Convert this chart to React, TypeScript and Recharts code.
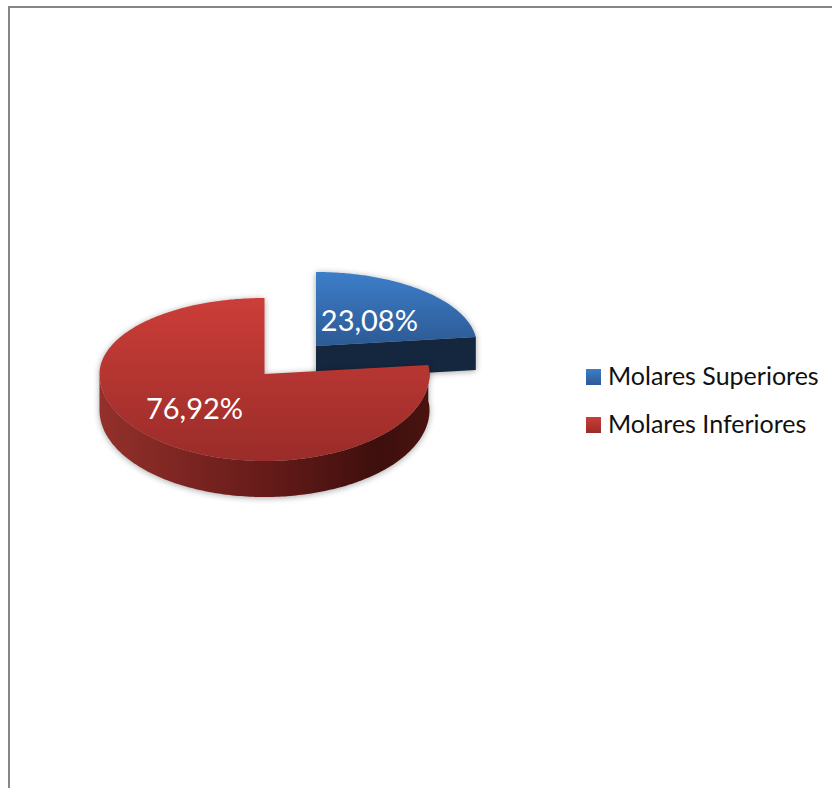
import { Legend, Pie, PieChart } from 'recharts';

const categories = ['Molares Superiores', 'Molares Inferiores'];
const shares = [23.08, 76.92];

const data = categories.map((name, i) => ({ name, value: shares[i] }));

const FONT = 'Lato, sans-serif';

// per-slice drawing setup: how far it is pulled out, and its tilted ellipse
const sliceStyles = [
  { dx: 51.5, dy: -28, rx: 161, up: 74, down: 85, depth: 33, top: 'url(#blueTop)', labelX: 0.5, labelY: 0.47, swatch: 'linear-gradient(#3d7ec9, #2c5a94)' },
  { dx: 0, dy: 0, rx: 165, up: 76, down: 87, depth: 36, top: 'url(#redTop)', labelX: 0.64, labelY: 0.52, swatch: 'linear-gradient(#cc3d38, #9a2c29)' },
];

const RAD = Math.PI / 180;

// point on the slice rim; the front half of the ellipse is a bit deeper than the back
function rim(s: (typeof sliceStyles)[number], cx: number, cy: number, deg: number, scaleX = 1, scaleY = 1) {
  const sin = Math.sin(deg * RAD);
  return {
    x: cx + s.dx + s.rx * scaleX * Math.cos(deg * RAD),
    y: cy + s.dy - (sin > 0 ? s.up : s.down) * scaleY * sin,
  };
}

function rimPoints(s: (typeof sliceStyles)[number], cx: number, cy: number, from: number, to: number) {
  const pts = [];
  for (let a = from; a > to; a -= 1) pts.push(rim(s, cx, cy, a));
  pts.push(rim(s, cx, cy, to));
  return pts;
}

const toPath = (pts: { x: number; y: number }[]) =>
  pts.map((p, i) => `${i ? 'L' : 'M'}${p.x.toFixed(1)} ${p.y.toFixed(1)}`).join(' ') + ' Z';

function Slice3D(props: any) {
  const { cx, cy, startAngle, endAngle, index } = props;
  const s = sliceStyles[index];
  const apex = { x: cx + s.dx, y: cy + s.dy };
  const arc = rimPoints(s, cx, cy, startAngle, endAngle);
  const last = arc[arc.length - 1];

  let wall = null;
  if (endAngle < 0) {
    // outer wall, only the part facing the viewer
    const front = rimPoints(s, cx, cy, startAngle, Math.max(endAngle, -180));
    const lower = front.map((p) => ({ x: p.x, y: p.y + s.depth })).reverse();
    wall = <path d={toPath([...front, ...lower])} fill="url(#redWall)" />;
  } else {
    // cut face along the slice's closing edge
    const face = [apex, last, { x: last.x, y: last.y + s.depth }, { x: apex.x, y: apex.y + s.depth }];
    wall = <path d={toPath(face)} fill="#15273f" />;
  }

  return (
    <g style={{ filter: 'drop-shadow(0 1px 3px rgba(0,0,0,0.35))' }}>
      {wall}
      <path d={toPath([apex, ...arc])} fill={s.top} />
    </g>
  );
}

function renderLabel(props: any) {
  const { cx, cy, midAngle, index, value } = props;
  const s = sliceStyles[index];
  const p = rim(s, cx, cy, midAngle, s.labelX, s.labelY);
  return (
    <text x={p.x} y={p.y} fill="#fff" fontFamily={FONT} fontSize={29} textAnchor="middle" dominantBaseline="central">
      {`${value.toFixed(2).replace('.', ',')}%`}
    </text>
  );
}

function LegendRows() {
  return (
    <div>
      {categories.map((name, i) => (
        <div key={name} style={{ display: 'flex', alignItems: 'center', height: 48 }}>
          <div style={{ width: 15, height: 16, marginRight: 7, background: sliceStyles[i].swatch }} />
          <span style={{ fontFamily: FONT, fontSize: 25, lineHeight: '44px', color: '#111', whiteSpace: 'nowrap', position: 'relative', top: -2 }}>{name}</span>
        </div>
      ))}
    </div>
  );
}

export default function App() {
  return (
    <div style={{ position: 'absolute', left: 0, top: 0, width: 832, height: 788, overflow: 'hidden', background: '#fff' }}>
      <div style={{ position: 'absolute', left: 8, top: 6, width: 900, height: 900, border: '2px solid #868686' }} />
      <div style={{ position: 'absolute', left: 0, top: 0 }}>
        <PieChart width={832} height={788} margin={{ top: 0, right: 0, bottom: 0, left: 0 }}>
          <defs>
            <linearGradient id="blueTop" x1="0" y1="0" x2="0" y2="1">
              <stop offset="0%" stopColor="#3d7ec9" />
              <stop offset="100%" stopColor="#2c5a94" />
            </linearGradient>
            <linearGradient id="redTop" x1="0" y1="0" x2="0" y2="1">
              <stop offset="0%" stopColor="#cc3d38" />
              <stop offset="100%" stopColor="#9a2c29" />
            </linearGradient>
            <linearGradient id="redWall" x1="0" y1="0" x2="1" y2="0">
              <stop offset="0%" stopColor="#93302b" />
              <stop offset="50%" stopColor="#661b19" />
              <stop offset="85%" stopColor="#3d0f0d" />
              <stop offset="100%" stopColor="#4a1310" />
            </linearGradient>
          </defs>
          <Pie
            data={data}
            dataKey="value"
            nameKey="name"
            cx={264.5}
            cy={374}
            outerRadius={165}
            startAngle={90}
            endAngle={-270}
            paddingAngle={0}
            stroke="none"
            shape={Slice3D}
            label={renderLabel}
            labelLine={false}
            isAnimationActive={false}
          />
          <Legend
            layout="vertical"
            content={<LegendRows />}
            wrapperStyle={{ position: 'absolute', left: 586, top: 353, width: 240 }}
          />
        </PieChart>
      </div>
    </div>
  );
}
